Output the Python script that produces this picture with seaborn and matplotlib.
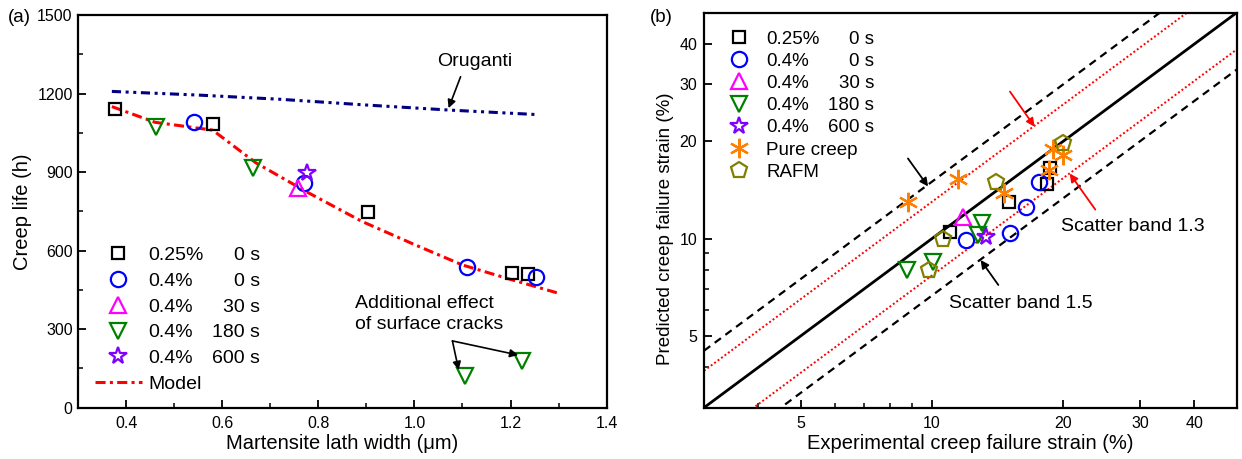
import matplotlib
matplotlib.use("Agg")
import matplotlib.pyplot as plt
from matplotlib.ticker import FixedLocator, MultipleLocator, NullFormatter, FuncFormatter
import seaborn as sns

# (a) creep life vs martensite lath width
sq_a_x = [0.377, 0.581, 0.904, 1.203, 1.237]
sq_a_y = [1140, 1082, 747, 513, 511]
ci_a_x = [0.542, 0.769, 1.11, 1.253]
ci_a_y = [1092, 859, 537, 500]
tu_a_x = [0.757]
tu_a_y = [838]
td_a_x = [0.462, 0.664, 1.105, 1.224]
td_a_y = [1073, 914, 121, 180]
st_a_x = [0.777]
st_a_y = [895]
model_x = [0.37, 0.46, 0.58, 0.67, 0.78, 0.89, 1.0, 1.1, 1.2, 1.3]
model_y = [1150, 1090, 1060, 935, 820, 712, 623, 545, 490, 437]
oru_x = [0.37, 0.55, 0.72, 0.9, 1.07, 1.25]
oru_y = [1208, 1194, 1178, 1156, 1137, 1120]

# (b) predicted vs experimental creep failure strain (%)
sq_b_x = [10.98, 15.0, 18.34, 18.7]
sq_b_y = [10.5, 13.0, 14.8, 16.5]
ci_b_x = [12.0, 15.1, 16.4, 17.58]
ci_b_y = [9.9, 10.4, 12.55, 15.0]
tu_b_x = [11.78]
tu_b_y = [11.7]
td_b_x = [13.04, 12.75, 8.78, 10.07]
td_b_y = [11.16, 10.26, 8.0, 8.49]
st_b_x = [13.3]
st_b_y = [10.14]
pc_b_x = [8.81, 11.47, 14.67, 18.54, 18.93, 19.95]
pc_b_y = [13.0, 15.26, 13.8, 16.3, 18.9, 18.15]
rafm_b_x = [14.04, 10.6, 9.85, 19.95]
rafm_b_y = [15.0, 10.0, 8.0, 19.8]
band_lim = [3, 50]

pcts = ["0.25%", "0.4%", "0.4%", "0.4%", "0.4%"]
times = ["0 s", "0 s", "30 s", "180 s", "600 s"]

sns.set_theme(style="ticks")
plt.rcParams["font.family"] = ["Liberation Sans", "DejaVu Sans"]
plt.rcParams["axes.linewidth"] = 1.6
plt.rcParams["axes.edgecolor"] = "black"
plt.rcParams["text.color"] = "black"
plt.rcParams["axes.labelcolor"] = "black"
plt.rcParams["xtick.color"] = "black"
plt.rcParams["ytick.color"] = "black"

fig = plt.figure(figsize=(12.42, 4.59), dpi=100)
ax1 = fig.add_axes([0.0630, 0.1118, 0.4254, 0.8556])
ax2 = fig.add_axes([0.5668, 0.1118, 0.4289, 0.8606])


def pts(ax, x, y, marker, color, ms, label):
    sns.lineplot(x=x, y=y, ax=ax, estimator=None, sort=False, linestyle="",
                 marker=marker, ms=ms, mfc="none", mec=color, mew=1.6,
                 color=color, label=label)


def add_times(ax, leg, xr, fs):
    fig.canvas.draw()
    inv = ax.transAxes.inverted()
    for txt, t in zip(leg.get_texts(), times):
        bb = txt.get_window_extent()
        yc = inv.transform((0, (bb.y0 + bb.y1) / 2))[1]
        ax.text(xr, yc, t, transform=ax.transAxes, ha="right", va="center",
                fontsize=fs, color="black")


def style_axes(ax):
    for sp in ax.spines.values():
        sp.set_visible(True)
        sp.set_linewidth(1.6)
        sp.set_color("black")
    ax.tick_params(which="both", direction="in", top=False, right=False,
                   colors="black", labelcolor="black", labelsize=11.5)
    ax.tick_params(which="major", length=6, width=1.3, pad=6)
    ax.tick_params(which="minor", length=3.5, width=1.1)
    ax.grid(False)


# ---- panel (a)
sns.lineplot(x=oru_x, y=oru_y, ax=ax1, color="#000080", lw=2.2,
             linestyle=(0, (3, 1.5, 1, 1.5, 1, 1.5)))
sns.lineplot(x=model_x, y=model_y, ax=ax1, color="red", lw=2.2,
             linestyle=(0, (3.3, 1.4, 1, 1.4)), label="Model")
pts(ax1, sq_a_x, sq_a_y, "s", "black", 9, pcts[0])
pts(ax1, ci_a_x, ci_a_y, "o", "#0000FF", 11, pcts[1])
pts(ax1, tu_a_x, tu_a_y, "^", "#FF00FF", 12, pcts[2])
pts(ax1, td_a_x, td_a_y, "v", "#008000", 12, pcts[3])
pts(ax1, st_a_x, st_a_y, "*", "#8000FF", 13, pcts[4])

ax1.set_xlim(0.3, 1.4)
ax1.set_ylim(0, 1500)
ax1.xaxis.set_major_locator(MultipleLocator(0.2))
ax1.xaxis.set_minor_locator(MultipleLocator(0.1))
ax1.yaxis.set_major_locator(MultipleLocator(300))
ax1.yaxis.set_minor_locator(MultipleLocator(150))
ax1.xaxis.set_major_formatter(FuncFormatter(lambda v, p: f"{v:.1f}"))
style_axes(ax1)
ax1.tick_params(axis="y", which="major", pad=4)
ax1.set_xlabel("Martensite lath width (\u03bcm)", fontsize=14.5, labelpad=2)
ax1.set_ylabel("Creep life (h)", fontsize=14.5)
ax1.yaxis.set_label_coords(-0.087, 0.5)

h, l = ax1.get_legend_handles_labels()
order = [1, 2, 3, 4, 5, 0]
leg1 = ax1.legend([h[i] for i in order], [l[i] for i in order], loc="upper left",
                  bbox_to_anchor=(0.0316, 0.4105), frameon=False, fontsize=14,
                  borderpad=0, borderaxespad=0, handlelength=2.4,
                  handletextpad=0.34, labelspacing=0.42)

ax1.text(1.125, 1322, "Oruganti", fontsize=14, ha="center", va="center")
ax1.annotate("", xy=(1.071, 1144), xytext=(1.096, 1264),
             arrowprops=dict(arrowstyle="-|>", color="black", lw=1.2,
                             shrinkA=0, shrinkB=0, mutation_scale=12))
ax1.text(0.876, 357, "Additional effect\nof surface cracks", fontsize=14,
         ha="left", va="center", linespacing=1.3)
for hx, hy in [(1.092, 144), (1.216, 201)]:
    ax1.annotate("", xy=(hx, hy), xytext=(1.079, 255),
                 arrowprops=dict(arrowstyle="-|>", color="black", lw=1.2,
                                 shrinkA=0, shrinkB=0, mutation_scale=12))

# ---- panel (b)
ax2.set_xscale("log")
ax2.set_yscale("log")
for k, ls, c, lw in [(1.0, "-", "black", 2.0),
                     (1.5, (0, (3.5, 2.5)), "black", 1.6),
                     (1 / 1.5, (0, (3.5, 2.5)), "black", 1.6),
                     (1.3, (0, (1, 1.2)), "red", 1.4),
                     (1 / 1.3, (0, (1, 1.2)), "red", 1.4)]:
    sns.lineplot(x=band_lim, y=[v * k for v in band_lim], ax=ax2, color=c,
                 lw=lw, linestyle=ls)

pts(ax2, sq_b_x, sq_b_y, "s", "black", 9, pcts[0])
pts(ax2, ci_b_x, ci_b_y, "o", "#0000FF", 11, pcts[1])
pts(ax2, tu_b_x, tu_b_y, "^", "#FF00FF", 12, pcts[2])
pts(ax2, td_b_x, td_b_y, "v", "#008000", 12, pcts[3])
pts(ax2, st_b_x, st_b_y, "*", "#8000FF", 13, pcts[4])
pts(ax2, pc_b_x, pc_b_y, (6, 2, 0), "#FF8000", 14, "Pure creep")
pts(ax2, rafm_b_x, rafm_b_y, "p", "#808000", 12, "RAFM")

ax2.set_xlim(band_lim)
ax2.set_ylim(band_lim)
for axis in (ax2.xaxis, ax2.yaxis):
    axis.set_major_locator(FixedLocator([5, 10, 20, 30, 40]))
    axis.set_major_formatter(FuncFormatter(lambda v, p: f"{v:g}"))
    axis.set_minor_locator(FixedLocator([4, 6, 7, 8, 9]))
    axis.set_minor_formatter(NullFormatter())
style_axes(ax2)
ax2.tick_params(axis="y", which="major", pad=5)
ax2.set_xlabel("Experimental creep failure strain (%)", fontsize=14.5, labelpad=2)
ax2.set_ylabel("Predicted creep failure strain (%)", fontsize=13.5)
ax2.yaxis.set_label_coords(-0.056, 0.452)

h, l = ax2.get_legend_handles_labels()
leg2 = ax2.legend(h, l, loc="upper left", bbox_to_anchor=(0.0218, 0.955),
                  frameon=False, fontsize=13.5, borderpad=0, borderaxespad=0,
                  handlelength=2.5, handletextpad=0.19, labelspacing=0.27)

ax2.text(19.8, 10.87, "Scatter band 1.3", fontsize=14, ha="left", va="center")
ax2.text(10.92, 6.32, "Scatter band 1.5", fontsize=14, ha="left", va="center")
arrows_b = [((9.8, 14.5), (8.81, 17.7), "black"),
            ((17.2, 22.2), (15.1, 28.5), "red"),
            ((20.7, 15.9), (23.7, 12.3), "red"),
            ((12.93, 8.59), (14.2, 7.19), "black")]
for head, tail, c in arrows_b:
    ax2.annotate("", xy=head, xytext=tail,
                 arrowprops=dict(arrowstyle="-|>", color=c, lw=1.3,
                                 shrinkA=0, shrinkB=0, mutation_scale=12))

fig.text(8 / 1242, 1 - 17 / 459, "(a)", fontsize=13.5, ha="left", va="center")
fig.text(650 / 1242, 1 - 17 / 459, "(b)", fontsize=13.5, ha="left", va="center")

add_times(ax1, leg1, 0.344, 14)
add_times(ax2, leg2, 0.319, 13.5)

fig.savefig("out.png", dpi=100)
